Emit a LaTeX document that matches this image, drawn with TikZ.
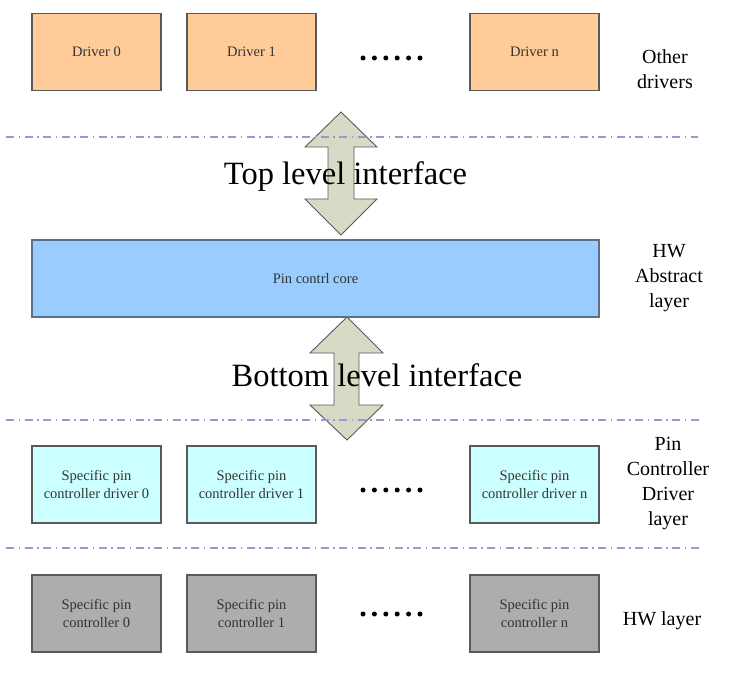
\documentclass[tikz,border=0pt]{standalone}
\usepackage{fontspec}
\setmainfont{Liberation Serif}
\definecolor{drvfill}{HTML}{FFCC99}
\definecolor{corefill}{HTML}{99CCFF}
\definecolor{corebord}{HTML}{5F6F88}
\definecolor{pcdfill}{HTML}{CCFFFF}
\definecolor{hwfill}{HTML}{ADADAD}
\definecolor{bordgray}{HTML}{5A5A5A}
\definecolor{arrfill}{HTML}{D8DAC6}
\definecolor{sepline}{HTML}{8CA0CC}
\definecolor{boxtext}{HTML}{333333}
\begin{document}
\begin{tikzpicture}[x=1pt,y=-1pt,
  box/.style={draw=bordgray, line width=1.2pt, minimum width=129pt, minimum height=77pt,
    inner sep=0pt, align=center, text=boxtext, font=\fontsize{14.5}{18}\selectfont},
  drvbox/.style={box, fill=drvfill},
  pcdbox/.style={box, fill=pcdfill},
  hwbox/.style={box, fill=hwfill},
  corebox/.style={box, draw=corebord, line width=1.8pt, fill=corefill, minimum width=567pt},
  blockarrow/.style={draw=bordgray, line width=0.9pt, fill=arrfill},
  sep/.style={draw=sepline, line width=1.2pt, dash pattern=on 8pt off 4.5pt on 1.5pt off 4.5pt},
  iflabel/.style={font=\fontsize{32.5}{38}\selectfont, inner sep=0pt},
  layerlabel/.style={font=\fontsize{20}{25}\selectfont, align=center, inner sep=0pt},
  dotmark/.style={circle, fill=black, inner sep=0pt, minimum size=5pt}
]
\useasboundingbox (0,0) rectangle (743,676);

% block arrows (drawn first, below lines and text)
\draw[blockarrow] (341,112) -- (377,147) -- (354,147) -- (354,199) -- (377,199) -- (341,235)
  -- (305,199) -- (328,199) -- (328,147) -- (305,147) -- cycle;
\draw[blockarrow] (347,317) -- (383,353) -- (359,353) -- (359,405) -- (383,405) -- (347,440)
  -- (310,405) -- (334,405) -- (334,353) -- (310,353) -- cycle;

% separator lines
\coordinate (s1a) at (6,137);   \coordinate (s1b) at (698,137);
\coordinate (s2a) at (6,420);   \coordinate (s2b) at (700,420);
\coordinate (s3a) at (6,548);   \coordinate (s3b) at (702,548);
\draw[sep] (s1a) -- (s1b);
\draw[sep] (s2a) -- (s2b);
\draw[sep] (s3a) -- (s3b);

% other drivers row
\node[drvbox] (d0) at (96.5,52) {Driver 0};
\node[drvbox] (d1) at (251.5,52) {Driver 1};
\node[drvbox] (dn) at (534.5,52) {Driver n};
\foreach \i in {0,...,5} \node[dotmark] (td\i) at (363+11.4*\i,58) {};
\node[layerlabel] (lod) at (665,69) {Other\\drivers};

% core
\node[corebox] (core) at (315.5,278.5) {Pin contrl core};
\node[layerlabel] (lhw) at (669,278) {HW\\Abstract\\layer};

% interface labels
\node[iflabel, anchor=base] (top) at (345.5,185) {Top level interface};
\node[iflabel, anchor=base] (bot) at (377,386) {Bottom level interface};

% pin controller driver row
\node[pcdbox] (p0) at (96.5,484.5) {Specific pin\\controller driver 0};
\node[pcdbox] (p1) at (251.5,484.5) {Specific pin\\controller driver 1};
\node[pcdbox] (pn) at (534.5,484.5) {Specific pin\\controller driver n};
\foreach \i in {0,...,5} \node[dotmark] (md\i) at (363+11.4*\i,490) {};
\node[layerlabel] (lpc) at (668,484) {Pin\\Controller\\Driver\\layer};

% hw row
\node[hwbox] (h0) at (96.5,613.5) {Specific pin\\controller 0};
\node[hwbox] (h1) at (251.5,613.5) {Specific pin\\controller 1};
\node[hwbox] (hn) at (534.5,613.5) {Specific pin\\controller n};
\foreach \i in {0,...,5} \node[dotmark] (bd\i) at (363+11.4*\i,614) {};
\node[layerlabel] (lhwl) at (662,621) {HW layer};
\end{tikzpicture}
\end{document}
